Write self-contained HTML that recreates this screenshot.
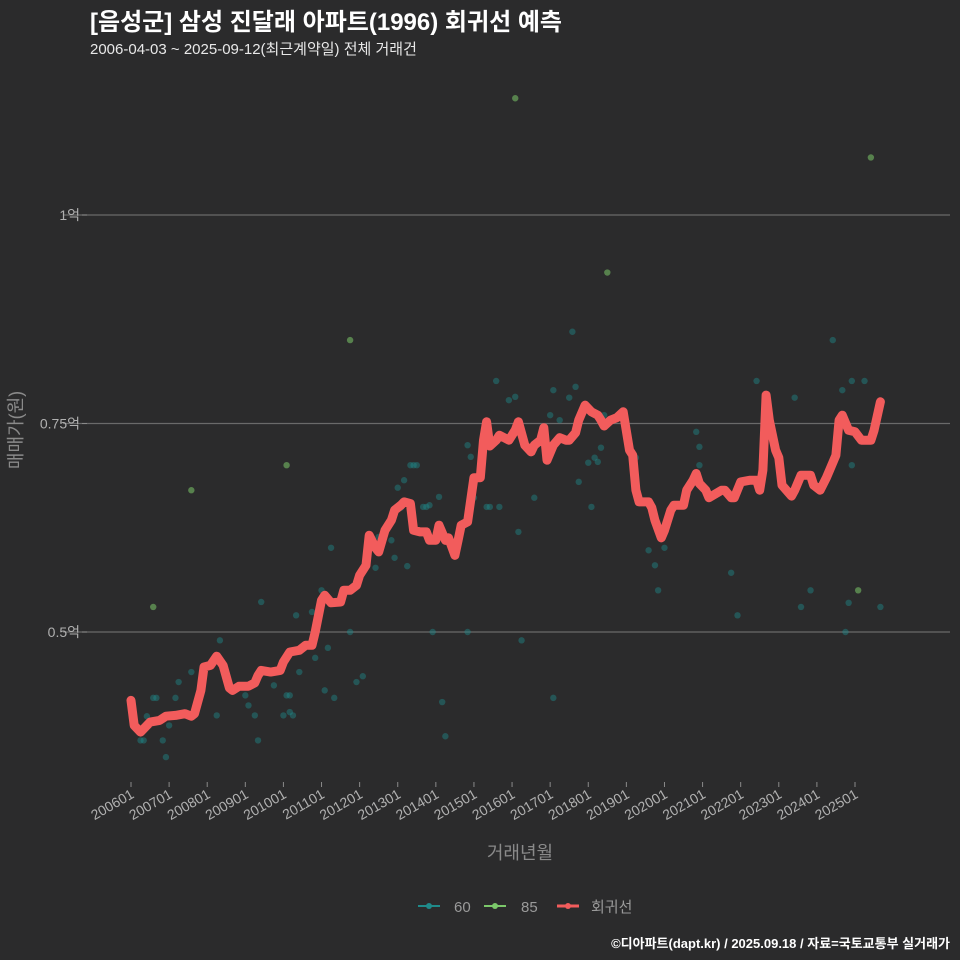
<!DOCTYPE html>
<html><head><meta charset="utf-8">
<style>
html,body{margin:0;padding:0;background:#2b2b2c;}
svg{display:block;font-family:"Liberation Sans","Noto Sans CJK KR",sans-serif;}
</style></head>
<body>
<svg id="chart" width="960" height="960" viewBox="0 0 960 960" xmlns="http://www.w3.org/2000/svg">
<rect width="960" height="960" fill="#2b2b2c"/>
<text x="90" y="30" font-size="24" font-weight="bold" fill="#ffffff">[음성군] 삼성 진달래 아파트(1996) 회귀선 예측</text>
<text x="90" y="54" font-size="15" fill="#e8e8e8">2006-04-03 ~ 2025-09-12(최근계약일) 전체 거래건</text>
<g id="grid"></g>
<g id="pts"></g>
<g id="line"></g>
<g id="xaxis"></g>
<g id="yaxis"></g>
<text x="22" y="430" font-size="18" fill="#8a8a8a" text-anchor="middle" transform="rotate(-90 22 430)">매매가(원)</text>
<text x="520" y="859" font-size="18" fill="#8a8a8a" text-anchor="middle">거래년월</text>
<g>
<g><line x1="418" y1="906" x2="440" y2="906" stroke="#1f8a8a" stroke-width="2"/><circle cx="429" cy="906" r="3" fill="#1f8a8a"/><text x="454" y="912" font-size="15" fill="#9a9a9a">60</text></g>
<g><line x1="484" y1="906" x2="506" y2="906" stroke="#7bc86a" stroke-width="2"/><circle cx="495" cy="906" r="3" fill="#7bc86a"/><text x="521" y="912" font-size="15" fill="#9a9a9a">85</text></g>
<g><line x1="557" y1="906" x2="579" y2="906" stroke="#f25c5c" stroke-width="3"/><circle cx="568" cy="906" r="3" fill="#f25c5c"/><text x="591" y="912" font-size="15" fill="#9a9a9a">회귀선</text></g>
</g>
<text x="950" y="948" font-size="13" font-weight="bold" fill="#ffffff" text-anchor="end">©디아파트(dapt.kr) / 2025.09.18 / 자료=국토교통부 실거래가</text>
</svg>
<script>
// months since 2006-01, prices in 만원
const lineMonths=[0,1,3,6,9,11,14,17,19,20,22,23,25,27,29,31,32,34,37,39,40,41,44,47,48,50,53,55,57,58,60,61,63,66,67,69,71,72,74,75,77,78,80,82,83,85,86,88,89,91,93,94,96,97,99,100,102,103,104,106,108,110,111,112,113,115,116,119,121,122,124,126,127,129,130,131,133,135,137,138,140,141,143,145,147,148,149,151,153,155,157,158,159,160,163,164,165,167,168,170,171,174,175,177,178,179,181,182,186,187,189,190,192,195,197,198,199,200,201,203,204,205,208,209,211,212,214,215,217,219,220,222,223,224,226,228,230,231,233,234,236];
const lineValues=[4180,3880,3800,3920,3940,3990,4000,4020,3990,4020,4300,4580,4600,4710,4600,4330,4300,4350,4350,4390,4480,4540,4520,4540,4640,4760,4780,4840,4840,5000,5380,5440,5350,5360,5500,5500,5560,5680,5800,6160,6010,5960,6220,6340,6460,6520,6560,6540,6220,6200,6200,6100,6100,6280,6100,6130,5920,6100,6280,6320,6850,6850,7300,7520,7230,7300,7360,7300,7420,7520,7240,7160,7240,7300,7450,7060,7240,7330,7300,7300,7390,7540,7720,7640,7600,7540,7470,7540,7570,7640,7180,7120,6700,6560,6560,6490,6340,6130,6220,6460,6520,6520,6700,6820,6900,6780,6700,6610,6700,6700,6610,6610,6800,6820,6820,6700,6940,7840,7540,7180,7090,6760,6630,6700,6880,6880,6880,6760,6700,6850,6940,7120,7540,7600,7420,7400,7300,7300,7300,7420,7760];
const g85Months=[7,19,49,69,121,150,233,229];
const g85Values=[5300,6700,7000,8500,11400,9310,10690,5500];
const g60Months=[3,4,5,7,8,10,11,12,14,15,19,27,28,31,36,37,39,40,41,45,48,49,50,50,51,52,53,57,58,60,61,62,63,64,69,71,73,77,78,82,83,84,85,86,87,88,89,90,92,93,94,95,98,99,97,106,107,106,108,112,113,115,116,119,121,122,123,127,132,133,133,135,138,139,140,141,144,145,146,147,148,149,159,163,165,166,168,178,179,179,189,191,197,209,211,214,221,224,225,226,227,227,231,236];
const g60Values=[3700,3700,3990,4210,4210,3700,3500,3880,4210,4400,4520,4000,4900,4360,4240,4120,4000,3700,5360,4360,4000,4240,4240,4040,4000,5200,4520,5240,4690,5500,4300,4810,6010,4210,5000,4400,4470,5770,6140,6100,5890,6730,6490,6820,5790,7000,7000,7000,6500,6500,6520,5000,4160,3750,6620,7240,7100,5000,6610,6500,6500,8010,6500,7780,7820,6200,4900,6610,7600,7900,4210,7540,7810,8600,7940,6800,7030,6500,7090,7040,7210,7600,7090,5980,5800,5500,6010,7400,7220,7000,5710,5200,8010,7810,5300,5500,8500,7900,5000,5350,7000,8010,8010,5300];
const yTickValues=[5000,7500,10000];
const yTickLabels=["0.5억","0.75억","1억"];
const xTickLabels=["200601","200701","200801","200901","201001","201101","201201","201301","201401","201501","201601","201701","201801","201901","202001","202101","202201","202301","202401","202501"];

const NS="http://www.w3.org/2000/svg";
const xS=m=>131+m*(724/228);
const yS=v=>632-(v-5000)*(208.5/2500);
function mk(tag,attrs,parent){const e=document.createElementNS(NS,tag);for(const k in attrs)e.setAttribute(k,attrs[k]);parent.appendChild(e);return e;}
const grid=document.getElementById('grid'),yax=document.getElementById('yaxis'),xax=document.getElementById('xaxis');
yTickValues.forEach((v,i)=>{
  const l=mk('line',{x1:63,x2:950,y1:yS(v),y2:yS(v),stroke:'#6a6a6a','stroke-width':1.2},grid);
  
  
  const t=mk('line',{x1:82,x2:87,y1:yS(v),y2:yS(v),stroke:'#8a8a8a'},yax);
  
  
  const tx=mk('text',{x:80,y:yS(v)+5,'font-size':14,fill:'#b0b0b0','text-anchor':'end'},yax);
  tx.textContent=yTickLabels[i];
  
  
});
xTickLabels.forEach((s,i)=>{
  const x=xS(i*12);
  const t=mk('line',{x1:x,x2:x,y1:782,y2:787,stroke:'#8a8a8a'},xax);
  
  
  const tx=mk('text',{x:x+4,y:797,'font-size':14,fill:'#b0b0b0','text-anchor':'end',transform:`rotate(-30 ${x+4} 797)`},xax);
  tx.textContent=s;
  
  
});
const pts=document.getElementById('pts');
g60Months.forEach((m,i)=>{
  const c=mk('circle',{cx:xS(m),cy:yS(g60Values[i]),r:3.2,fill:'#1f8a8a','fill-opacity':0.45},pts);
  
  
});
g85Months.forEach((m,i)=>{
  const c=mk('circle',{cx:xS(m),cy:yS(g85Values[i]),r:3.2,fill:'#7bc86a','fill-opacity':0.55},pts);
  
  
});
const d=lineMonths.map((m,i)=>(i?'L':'M')+xS(m).toFixed(1)+','+yS(lineValues[i]).toFixed(1)).join('');
const p=mk('path',{d:d,fill:'none',stroke:'#f25c5c','stroke-width':9,'stroke-linejoin':'round','stroke-linecap':'round'},document.getElementById('line'));


</script>
</body></html>
